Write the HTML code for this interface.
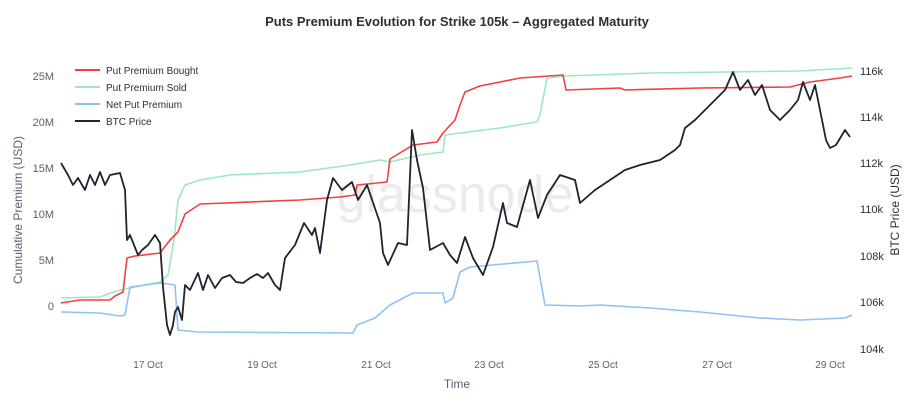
<!DOCTYPE html>
<html><head><meta charset="utf-8"><style>
body{margin:0;background:#fff;}
svg{display:block;font-family:"Liberation Sans",sans-serif;}
</style></head><body>
<svg width="915" height="405" viewBox="0 0 915 405">
<text x="457" y="26" text-anchor="middle" font-size="13" font-weight="bold" fill="#2a2f3a">Puts Premium Evolution for Strike 105k – Aggregated Maturity</text>
<text x="455" y="212" text-anchor="middle" font-size="52" fill="#ebebed">glassnode</text>
<g font-size="11" fill="#5b6072" text-anchor="end">
<text x="54" y="80">25M</text><text x="54" y="126">20M</text><text x="54" y="172">15M</text><text x="54" y="218">10M</text><text x="54" y="264">5M</text><text x="54" y="310">0</text>
</g>
<g font-size="11" fill="#2a2f3a" text-anchor="start">
<text x="860" y="75">116k</text><text x="860" y="121">114k</text><text x="860" y="167">112k</text><text x="860" y="213">110k</text><text x="860" y="260">108k</text><text x="860" y="306">106k</text><text x="860" y="353">104k</text>
</g>
<text transform="translate(22,210) rotate(-90)" text-anchor="middle" font-size="12" fill="#5b6072">Cumulative Premium (USD)</text>
<text transform="translate(899,210) rotate(-90)" text-anchor="middle" font-size="12" fill="#2a2f3a">BTC Price (USD)</text>
<g font-size="10" fill="#5b6072" text-anchor="middle">
<text x="148" y="368">17 Oct</text><text x="262" y="368">19 Oct</text><text x="376" y="368">21 Oct</text><text x="489" y="368">23 Oct</text><text x="603" y="368">25 Oct</text><text x="717" y="368">27 Oct</text><text x="830" y="368">29 Oct</text>
</g>
<text x="457" y="388" text-anchor="middle" font-size="12" fill="#5b6072">Time</text>
<g fill="none" stroke-width="1.6" stroke-linejoin="round">
<polyline stroke="#9ee8c0" points="61,298 100,297 110,293 125,289 145,285 160,282 168,275 174,240 178,200 185,185 200,180 230,175 300,172 350,165 380,160 390,162 420,155 443,152 445,135 500,128 537,122 540,115 547,78 565,76 650,73 800,71 852,68"/>
<polyline stroke="#f04040" points="61,303 80,300 110,300 115,296 123,292 127,258 135,256 160,253 170,240 178,232 185,214 200,204 300,200 340,197 355,195 357,185 387,182 390,159 413,145 437,142 443,133 455,120 460,105 465,92 480,86 520,78 563,75 566,90 620,88 625,90 700,88 790,87 810,82 840,78 852,76"/>
<polyline stroke="#8ec2f5" points="61,312 100,313 120,316 125,315 130,287 160,283 175,285 178,330 197,332 353,333 357,325 375,318 390,305 413,293 443,293 445,303 453,298 460,272 470,267 537,261 545,305 580,306 600,305 650,308 700,312 760,318 800,320 845,318 852,315"/>
<polyline stroke="#1f2330" stroke-width="1.8" points="61,163 68,175 73,185 78,178 85,190 90,175 95,185 100,172 105,185 110,175 120,173 125,190 127,240 130,235 138,255 142,250 148,245 155,235 160,243 163,287 167,325 170,335 173,325 175,312 178,307 182,320 185,285 190,290 198,273 203,290 208,275 215,288 222,278 230,275 236,282 243,283 250,278 257,274 263,278 268,273 275,285 280,290 285,258 295,245 304,223 312,235 315,228 320,253 327,200 333,178 342,190 352,182 358,200 367,185 380,223 383,253 388,265 398,243 407,245 412,130 417,160 423,188 430,250 443,243 450,255 457,263 465,237 473,258 483,275 493,247 503,203 507,223 517,227 530,180 538,218 547,195 560,175 575,180 580,203 595,190 610,180 625,170 640,165 660,160 675,150 680,145 685,128 695,120 710,105 725,90 733,72 740,90 748,80 755,95 762,85 770,110 780,120 790,110 798,100 803,82 810,100 815,85 820,110 826,140 830,148 836,145 845,130 850,137"/>
</g>
<g font-size="10" fill="#2a2f3a">
<line x1="75" y1="70" x2="100" y2="70" stroke="#f04040" stroke-width="2"/><text x="106" y="74">Put Premium Bought</text>
<line x1="75" y1="87" x2="100" y2="87" stroke="#9ee8c0" stroke-width="2"/><text x="106" y="91">Put Premium Sold</text>
<line x1="75" y1="104" x2="100" y2="104" stroke="#8ec2f5" stroke-width="2"/><text x="106" y="108">Net Put Premium</text>
<line x1="75" y1="121" x2="100" y2="121" stroke="#1f2330" stroke-width="2"/><text x="106" y="125">BTC Price</text>
</g>
</svg>
</body></html>
